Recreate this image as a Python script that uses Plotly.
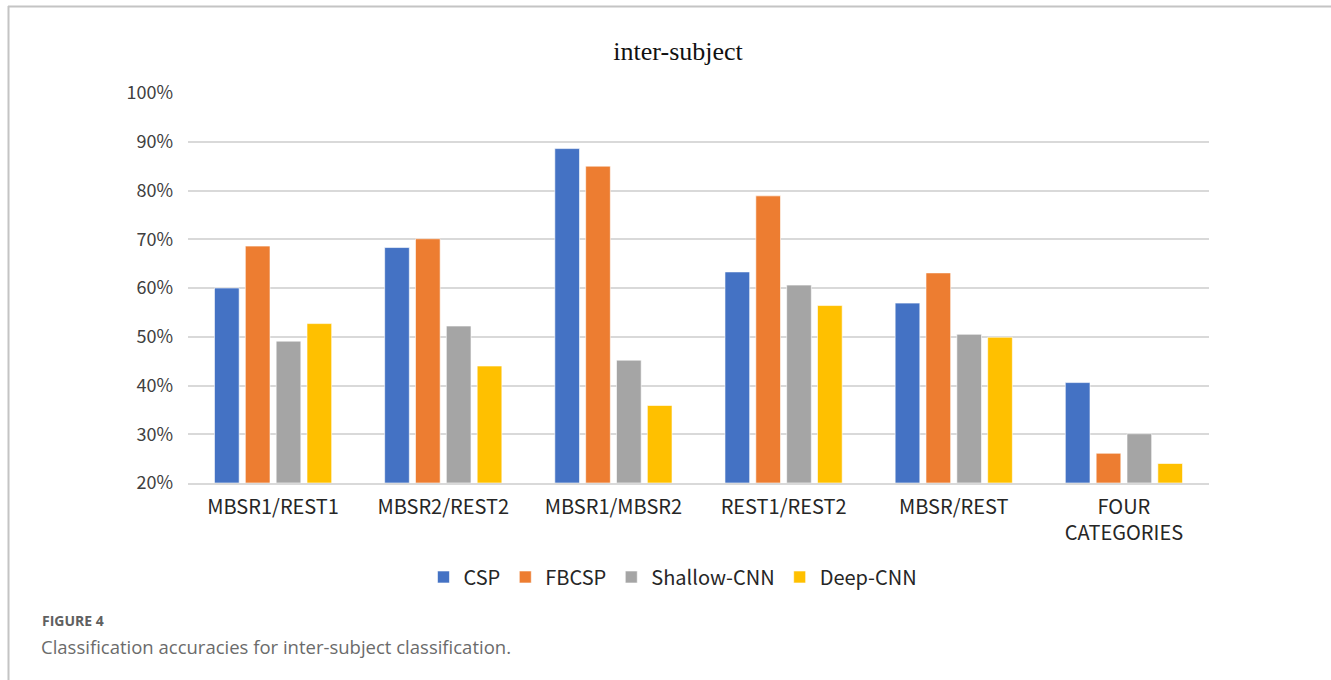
import plotly.graph_objects as go

# Classification accuracy (%) per task, one list per method
categories = ["MBSR1/REST1", "MBSR2/REST2", "MBSR1/MBSR2", "REST1/REST2", "MBSR/REST", "FOUR<br>CATEGORIES"]
csp = [60.0, 68.3, 88.6, 63.3, 56.9, 40.6]
fbcsp = [68.6, 70.1, 85.0, 78.9, 63.1, 26.1]
shallow_cnn = [49.1, 52.2, 45.2, 60.6, 50.5, 30.1]
deep_cnn = [52.7, 44.0, 35.9, 56.4, 49.9, 24.0]

series = [
    ("CSP", csp, "#4472C4"),
    ("FBCSP", fbcsp, "#ED7D31"),
    ("Shallow-CNN", shallow_cnn, "#A5A5A5"),
    ("Deep-CNN", deep_cnn, "#FFC000"),
]

tick_vals = [20, 30, 40, 50, 60, 70, 80, 90, 100]
tick_text = [f"{v}%" for v in tick_vals]

label_font = "Noto Sans CJK SC, Noto Sans, sans-serif"

fig = go.Figure()
for name, vals, color in series:
    fig.add_trace(go.Bar(
        name=name,
        x=categories,
        y=[v - 20 for v in vals],
        base=20,
        marker=dict(color=color, line=dict(color="rgba(255,255,255,0.6)", width=1)),
        hovertemplate="%{x}: %{customdata:.1f}%<extra>" + name + "</extra>",
        customdata=vals,
    ))

fig.update_layout(
    width=1331,
    height=680,
    margin=dict(l=188, r=122, t=93, b=197),
    paper_bgcolor="white",
    plot_bgcolor="white",
    barmode="group",
    bargap=0.275,
    bargroupgap=0.2,
    font=dict(family=label_font, color="#404040", size=18),
    title=dict(
        text="inter-subject",
        x=0.48 * 1021 / 1331 + 188 / 1331,
        xanchor="center",
        y=1 - 51 / 680,
        yanchor="middle",
        font=dict(family="Liberation Serif, Times New Roman, serif", size=26, color="#111111"),
    ),
    xaxis=dict(
        showgrid=False,
        showline=True,
        linecolor="#d9d9d9",
        linewidth=2,
        ticks="",
        ticklabelstandoff=5,
        tickfont=dict(size=20, color="#262626"),
    ),
    yaxis=dict(
        range=[20, 100],
        tickvals=tick_vals,
        ticktext=tick_text,
        showgrid=True,
        gridcolor="#d9d9d9",
        gridwidth=2,
        zeroline=False,
        ticks="",
        ticklabelstandoff=14,
        tickfont=dict(size=18, color="#404040"),
    ),
    legend=dict(
        orientation="h",
        x=0.475,
        xanchor="center",
        y=-0.241,
        yanchor="middle",
        font=dict(size=20, color="#262626"),
        itemwidth=30,
        traceorder="normal",
    ),
    showlegend=True,
)

# Caption below the chart
fig.add_annotation(
    text="<b>FIGURE 4</b>", xref="paper", yref="paper",
    x=(40 - 188) / 1021, y=(483 - 620) / 390, xanchor="left", yanchor="middle",
    showarrow=False, font=dict(family="Open Sans, Lato, sans-serif", size=14, color="#606060"),
)
fig.add_annotation(
    text="Classification accuracies for inter-subject classification.", xref="paper", yref="paper",
    x=(39 - 188) / 1021, y=(483 - 646) / 390, xanchor="left", yanchor="middle",
    showarrow=False, font=dict(family="Open Sans, Lato, sans-serif", size=18.5, color="#6b6b6b"),
)

# Frame lines along the top and left edge of the figure box
fig.add_shape(type="line", xref="paper", yref="paper",
              x0=(8 - 188) / 1021, x1=(1331 - 188) / 1021,
              y0=(483 - 6.5) / 390, y1=(483 - 6.5) / 390,
              line=dict(color="#c4c4c4", width=2))
fig.add_shape(type="line", xref="paper", yref="paper",
              x0=(8.5 - 188) / 1021, x1=(8.5 - 188) / 1021,
              y0=(483 - 6) / 390, y1=(483 - 680) / 390,
              line=dict(color="#c4c4c4", width=2))

fig.write_html("out.html")
